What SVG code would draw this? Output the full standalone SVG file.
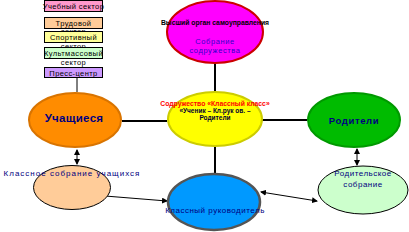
<svg xmlns="http://www.w3.org/2000/svg" width="409" height="232" viewBox="0 0 409 232">
<style>
text{font-family:"Liberation Sans",Arial,sans-serif;}
.box{stroke:#000;stroke-width:1}
.bt{font-size:7.5px;fill:#000;text-anchor:middle;letter-spacing:0.4px}
.ln{stroke:#000;stroke-width:2;fill:none}
.thin{stroke:#000;stroke-width:1;fill:none}
.nv{fill:#000080;text-anchor:middle}
</style>
<defs>
<marker id="ah" markerWidth="6" markerHeight="6" refX="5" refY="3" orient="auto-start-reverse" markerUnits="userSpaceOnUse">
<path d="M0,0 L6,3 L0,6 z" fill="#000"/>
</marker>
</defs>
<g id="connectors">
<line class="thin" x1="77" y1="78" x2="77" y2="92"/>
<line class="ln" x1="215" y1="64" x2="215" y2="92"/>
<line class="ln" x1="122" y1="121" x2="167" y2="121"/>
<line class="ln" x1="262" y1="120" x2="307" y2="120"/>
<line class="ln" x1="215" y1="147" x2="215" y2="173"/>
<line class="thin" x1="77" y1="150" x2="77" y2="164" marker-start="url(#ah)" marker-end="url(#ah)"/>
<line class="thin" x1="357" y1="149" x2="357" y2="165" marker-start="url(#ah)" marker-end="url(#ah)"/>
<line class="thin" x1="105" y1="196" x2="167" y2="201" marker-end="url(#ah)"/>
<line class="thin" x1="261" y1="192" x2="317" y2="201" marker-start="url(#ah)" marker-end="url(#ah)"/>
</g>
<g id="sector-boxes">
<rect class="box" x="44.5" y="0.5" width="58" height="11" fill="#FF99CC"/>
<text class="bt" x="73.5" y="9">Учебный сектор</text>
<rect class="box" x="44.5" y="17.5" width="58" height="11" fill="#FFCC99"/>
<text class="bt" x="73.5" y="26">Трудовой</text>
<text class="bt" x="73.5" y="34">сектор</text>
<rect class="box" x="44.5" y="31.5" width="58" height="11" fill="#FFFF99"/>
<text class="bt" x="73.5" y="40">Спортивный</text>
<text class="bt" x="73.5" y="49">сектор</text>
<rect class="box" x="44.5" y="47.5" width="58" height="11" fill="#CCFFCC"/>
<text class="bt" x="73.5" y="56">Культмассовый</text>
<text class="bt" x="73.5" y="65">сектор</text>
<rect class="box" x="44.5" y="67.5" width="58" height="10" fill="#CC99FF"/>
<text class="bt" x="73.5" y="75.5">Пресс-центр</text>
</g>
<g id="sobranie">
<ellipse cx="215" cy="32" rx="48" ry="31" fill="#FF00FF" stroke="#CC0000" stroke-width="2"/>
<text x="215" y="25" font-size="6.8px" font-weight="bold" text-anchor="middle" fill="#000">Высший орган самоуправления</text>
<text x="215" y="44" font-size="7.5px" text-anchor="middle" fill="#3300CC" letter-spacing="0.6">Собрание</text>
<text x="215" y="53" font-size="7.5px" text-anchor="middle" fill="#3300CC" letter-spacing="0.6">содружества</text>
</g>
<g id="center">
<ellipse cx="215" cy="119" rx="47" ry="27" fill="#FFFF00" stroke="#CCCC00" stroke-width="2"/>
<text x="215" y="106" font-size="6.8px" font-weight="bold" text-anchor="middle" fill="#FF0000">Содружество «Классный класс»</text>
<text x="215" y="113" font-size="6.5px" font-weight="bold" text-anchor="middle" fill="#000033">«Ученик – Кл.рук ов. –</text>
<text x="215" y="120" font-size="6.5px" font-weight="bold" text-anchor="middle" fill="#000033">Родители</text>
</g>
<g id="uchaschiesya">
<ellipse cx="75" cy="120" rx="46" ry="27" fill="#FF8C00" stroke="#D97400" stroke-width="2"/>
<text class="nv" x="74" y="122" font-size="11.5px" font-weight="bold" letter-spacing="0.3">Учащиеся</text>
</g>
<g id="roditeli">
<ellipse cx="354" cy="120" rx="46" ry="27" fill="#00BB00" stroke="#009900" stroke-width="2"/>
<text class="nv" x="354" y="124" font-size="9.5px" font-weight="bold" letter-spacing="0.6">Родители</text>
</g>
<g id="klassnoe-sobranie">
<ellipse cx="72" cy="187.5" rx="38.5" ry="22" fill="#FFCC99" stroke="#000" stroke-width="1"/>
<text class="nv" x="72" y="176" font-size="8px" letter-spacing="1">Классное собрание учащихся</text>
</g>
<g id="klassny-rukovoditel">
<ellipse cx="214" cy="202" rx="46" ry="28" fill="#0099FF" stroke="#555555" stroke-width="2.5"/>
<text class="nv" x="215" y="213" font-size="8px" letter-spacing="0.5">Классный руководитель</text>
</g>
<g id="roditelskoe-sobranie">
<ellipse cx="363" cy="190" rx="45" ry="24" fill="#CCFFCC" stroke="#000" stroke-width="1"/>
<text class="nv" x="363" y="176" font-size="8px" letter-spacing="0.5">Родительское</text>
<text class="nv" x="363" y="187" font-size="8px" letter-spacing="0.5">собрание</text>
</g>
</svg>
